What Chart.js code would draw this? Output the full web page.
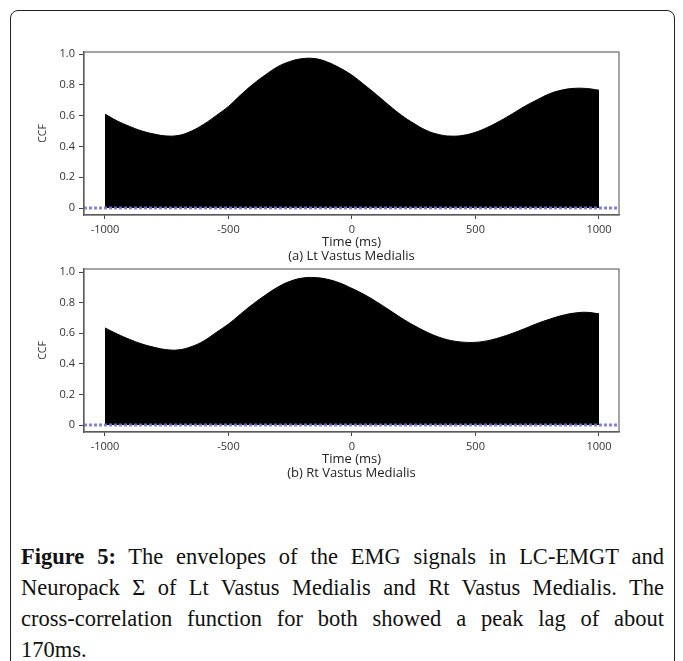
<!DOCTYPE html>
<html>
<head>
<meta charset="utf-8">
<script src="https://cdn.jsdelivr.net/npm/chart.js@4.4.1/dist/chart.umd.min.js"></script>
<style>
  html, body { margin: 0; padding: 0; background: #fff; }
  body { width: 683px; height: 661px; position: relative; overflow: hidden; }
  .frame {
    position: absolute; left: 10px; top: 10px; width: 665px; height: 700px;
    border: 1.5px solid #222; border-radius: 8px; box-sizing: border-box;
  }
  .plot { position: absolute; left: 0; width: 683px; height: 265px; }
  .caption {
    position: absolute; left: 21px; top: 541px; width: 643px;
    font-family: "Liberation Serif", serif; font-size: 22.5px; line-height: 31px; color: #111;
  }
  .caption div { text-align: justify; text-align-last: justify; white-space: nowrap; }
  .caption div.last { text-align-last: left; }
  .caption b { font-weight: bold; }
</style>
</head>
<body>
<div class="frame"></div>
<div class="plot" style="top:0"><canvas id="lt"></canvas></div>
<div class="plot" style="top:217px"><canvas id="rt"></canvas></div>
<div class="caption">
  <div><b>Figure 5:</b> The envelopes of the EMG signals in LC-EMGT and</div>
  <div>Neuropack &Sigma; of Lt Vastus Medialis and Rt Vastus Medialis. The</div>
  <div>cross-correlation function for both showed a peak lag of about</div>
  <div class="last">170ms.</div>
</div>
<script>
// lag in ms
const lags = [-1000, -950, -900, -850, -800, -750, -700, -650, -600, -550,
  -500, -450, -400, -350, -300, -250, -200, -150, -100, -50,
  0, 50, 100, 150, 200, 250, 300, 350, 400, 450,
  500, 550, 600, 650, 700, 750, 800, 850, 900, 950, 1000];

// CCF
const ccfLt = [0.61, 0.565, 0.53, 0.50, 0.48, 0.468, 0.472, 0.50, 0.544, 0.60,
  0.66, 0.735, 0.805, 0.865, 0.918, 0.952, 0.97, 0.97, 0.948, 0.91,
  0.862, 0.80, 0.735, 0.667, 0.603, 0.55, 0.505, 0.478, 0.467, 0.472,
  0.492, 0.525, 0.566, 0.613, 0.661, 0.703, 0.742, 0.766, 0.777, 0.776, 0.765];

const ccfRt = [0.635, 0.595, 0.56, 0.53, 0.508, 0.493, 0.492, 0.513, 0.55, 0.605,
  0.66, 0.727, 0.792, 0.85, 0.902, 0.94, 0.961, 0.964, 0.953, 0.929,
  0.893, 0.853, 0.805, 0.753, 0.70, 0.652, 0.61, 0.576, 0.553, 0.542,
  0.541, 0.552, 0.573, 0.60, 0.631, 0.664, 0.692, 0.716, 0.732, 0.737, 0.727];

const xTicks = [-1000, -500, 0, 500, 1000];
const yTicks = [0, 0.2, 0.4, 0.6, 0.8, 1.0];
const xRange = [-1085, 1081];
const zeroLine = [0, 0];

// grey box round the plot area
const boxPlugin = {
  id: 'box',
  afterDraw(chart) {
    const a = chart.chartArea, ctx = chart.ctx;
    ctx.save();
    ctx.strokeStyle = '#6a6a6a';
    ctx.lineWidth = 1.2;
    ctx.strokeRect(a.left, a.top, a.right - a.left, a.bottom - a.top);
    ctx.restore();
  }
};

function makeChart(id, values, panel, yMin, yMax) {
  const pts = lags.map((x, i) => ({ x: x, y: values[i] }));
  const zero = xRange.map((x, i) => ({ x: x, y: zeroLine[i] }));
  return new Chart(document.getElementById(id), {
    type: 'line',
    data: {
      datasets: [
        {
          data: zero,
          borderColor: 'rgba(118,118,214,0.9)',
          borderWidth: 3,
          borderDash: [3, 2],
          pointRadius: 0,
          fill: false
        },
        {
          data: pts,
          borderColor: '#000',
          borderWidth: 1,
          backgroundColor: '#000',
          pointRadius: 0,
          tension: 0.4,
          fill: 'origin'
        }
      ]
    },
    options: {
      responsive: false,
      animation: false,
      devicePixelRatio: 1,
      layout: { padding: { left: 31, right: 64, top: 52, bottom: 0 } },
      plugins: { legend: { display: false }, tooltip: { enabled: false } },
      scales: {
        x: {
          type: 'linear',
          min: xRange[0],
          max: xRange[1],
          afterBuildTicks: s => { s.ticks = xTicks.map(v => ({ value: v })); },
          afterFit: s => { s.height = 50; },
          grid: { drawOnChartArea: false, drawTicks: true, tickLength: 4, color: '#444' },
          border: { color: '#444', width: 1.2 },
          ticks: {
            padding: 4,
            color: '#333',
            font: { family: 'Open Sans', size: 11 },
            maxRotation: 0,
            callback: v => String(v)
          },
          title: {
            display: true,
            text: ['Time (ms)', panel],
            color: '#222',
            font: { family: 'Open Sans', size: 13, lineHeight: 1.1 },
            padding: { top: 0, bottom: 1.5 }
          }
        },
        y: {
          min: yMin,
          max: yMax,
          afterBuildTicks: s => { s.ticks = yTicks.map(v => ({ value: v })); },
          afterFit: s => { s.width = 53; },
          grid: { drawOnChartArea: false, drawTicks: true, tickLength: 5, color: '#444' },
          border: { color: '#444', width: 1.2 },
          ticks: {
            padding: 4,
            color: '#333',
            font: { family: 'Open Sans', size: 11 },
            callback: v => (v === 0 ? '0' : v.toFixed(1))
          },
          title: {
            display: true,
            text: 'CCF',
            color: '#333',
            font: { family: 'Open Sans', size: 10.5 },
            padding: { top: 6, bottom: 0 }
          }
        }
      }
    },
    plugins: [boxPlugin]
  });
}

function sizeCanvas(id) {
  const c = document.getElementById(id);
  c.width = 683; c.height = 265;
  c.style.width = '683px'; c.style.height = '265px';
}
sizeCanvas('lt');
sizeCanvas('rt');

makeChart('lt', ccfLt, '(a) Lt Vastus Medialis', -0.045, 1.013);
makeChart('rt', ccfRt, '(b) Rt Vastus Medialis', -0.045, 1.02);
</script>
</body>
</html>
